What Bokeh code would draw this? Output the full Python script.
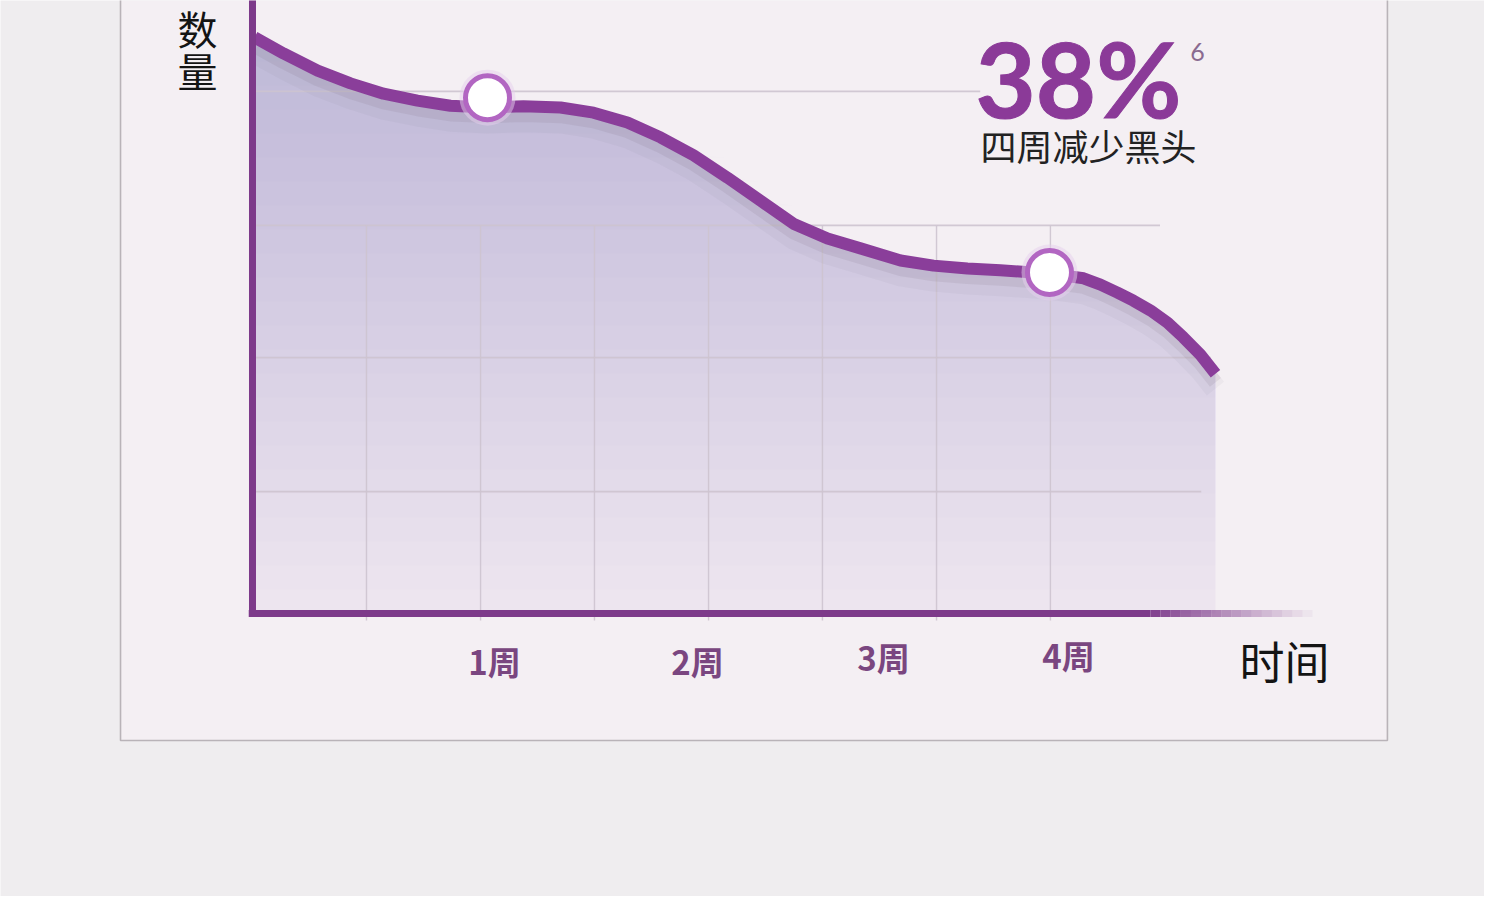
import numpy as np
from bokeh.plotting import figure
from bokeh.models import Range1d
from bokeh.core.properties import value
from bokeh.embed import file_html
from bokeh.resources import INLINE

# ---------------- data ----------------
weeks = [-0.244, -0.089, 0.093, 0.269, 0.445, 0.626, 0.802, 1.0, 1.192, 1.390,
         1.566, 1.747, 1.924, 2.100, 2.281, 2.457, 2.633, 2.815, 2.991, 3.205,
         3.381, 3.562, 3.738, 4.0, 4.182, 4.272, 4.363, 4.448, 4.539, 4.630,
         4.715, 4.806, 4.886]
counts = [100.2, 97.4, 94.4, 92.2, 90.4, 89.2, 88.3, 88.0, 88.2, 88.0,
          87.1, 85.4, 82.8, 79.7, 75.8, 71.8, 67.8, 65.2, 63.5, 61.4,
          60.5, 60.0, 59.7, 59.1, 58.3, 57.2, 55.8, 54.4, 52.7, 50.6,
          48.0, 45.0, 41.7]
marker_weeks = [1, 4]
marker_counts = [89.7, 59.3]
tick_labels = ["1周", "2周", "3周", "4周"]
grid_rows = [21.2, 44.5, 67.5, 90.8]
grid_row_ends = [4.81, 4.86, 4.59, 3.63]
grid_cols = [0.354, 0.963, 1.571, 2.180, 2.788, 3.397, 4.005]
headline = "38%"
footnote = "6"
subline = "四周减少黑头"
x_title = "时间"
y_title = ["数", "量"]

# ---------------- layout ----------------
W, H = 1484, 896
X0, X1 = -1.5997, 6.3222
Y0, Y1 = -49.22, 106.61
axis_x = -0.2545
axis_solid_end = 4.539
axis_fade_end = 5.404

BG = "#efedef"
BOX_BG = "#f4eff3"
BOX_LINE = "#b9b3b8"
CURVE = "#8a3e9a"
AXIS = "#7d3a8a"
GRID = "#cdc3cf"
HEAD = "#8b3a98"

p = figure(width=W, height=H, x_range=Range1d(X0, X1), y_range=Range1d(Y0, Y1),
           x_axis_type=None, y_axis_type=None, output_backend="svg",
           toolbar_location=None, min_border=0,
           background_fill_color=BG, border_fill_color=BG, outline_line_color=None)
p.grid.visible = False

# framed panel
p.quad(left=[-0.959], right=[5.804], bottom=[-22.09], top=[130],
       fill_color=BOX_BG, line_color=BOX_LINE, line_width=1.6)

wx = np.array(weeks)
cy = np.array(counts)

# area fill with vertical gradient
p.varea(x=wx, y1=np.zeros_like(cy), y2=cy, fill_color="#efe7f0")
for t in np.linspace(0, 96, 24):
    p.varea(x=wx, y1=np.full_like(cy, t), y2=np.maximum(cy, t),
            fill_color="#9f78a7", fill_alpha=0.015)

# grid
p.segment(x0=[axis_x] * len(grid_rows), y0=grid_rows, x1=grid_row_ends, y1=grid_rows,
          line_color=GRID, line_width=1.6, line_alpha=0.9)
p.segment(x0=grid_cols, y0=[-1.2] * len(grid_cols), x1=grid_cols,
          y1=[grid_rows[2]] * len(grid_cols),
          line_color=GRID, line_width=1.4, line_alpha=0.9)

# curve shadow + curve
p.line(wx, cy - 2.6, line_width=22, line_color="#6a5a70", line_alpha=0.05, line_join="round")
p.line(wx, cy - 1.5, line_width=14, line_color="#6a5a70", line_alpha=0.11, line_join="round")
p.line(wx, cy, line_width=12, line_color=CURVE, line_cap="butt", line_join="round")

# axes
p.segment(x0=[axis_x], y0=[-0.6], x1=[axis_x], y1=[Y1 + 5], line_color=AXIS, line_width=7)
p.segment(x0=[axis_x - 0.02], y0=[0], x1=[axis_solid_end], y1=[0], line_color=AXIS, line_width=7)
n_fade = 16
edges = np.linspace(axis_solid_end, axis_fade_end, n_fade + 1)
p.segment(x0=edges[:-1], y0=np.zeros(n_fade), x1=edges[1:], y1=np.zeros(n_fade),
          line_color=AXIS, line_width=7,
          line_alpha=list(np.linspace(0.95, 0.05, n_fade)))

# markers
p.scatter(marker_weeks, marker_counts, size=56, fill_color="#e6cfee", fill_alpha=0.5, line_color=None)
p.scatter(marker_weeks, marker_counts, size=44, fill_color="white",
          line_color="#b266c2", line_width=5)

# tick labels
p.text(x=[1.037, 2.121, 3.114, 4.101], y=[-8.2, -8.2, -7.5, -7.3], text=tick_labels,
       text_font=value("Noto Sans CJK SC"), text_font_size="33px", text_font_style="bold",
       text_color="#7a4680", text_align="center", text_baseline="middle")

# axis titles
p.text(x=[5.255], y=[-8.2], text=[x_title], text_font=value("Noto Sans CJK SC"),
       text_font_size="45px", text_color="#141414", text_align="center", text_baseline="middle")
p.text(x=[-0.548, -0.548], y=[101.9, 94.6], text=y_title, text_font=value("Noto Sans CJK SC"),
       text_font_size="40px", text_color="#141414", text_align="center", text_baseline="middle")

# headline block
p.text(x=[3.632], y=[81.4], text=[subline], text_font=value("Noto Sans CJK SC"),
       text_font_size="36px", text_color="#222222",
       text_align="left", text_baseline="middle")
p.text(x=[4.790], y=[97.6], text=[footnote], text_font=value("Lato"),
       text_font_size="25px", text_color="#8a6a90", text_align="center", text_baseline="middle")
p.text(x=[3.605], y=[93.2], text=[headline], text_font=value("Lato"),
       text_font_size="104px", text_font_style="bold", text_color=HEAD,
       text_outline_color=HEAD,
       text_align="left", text_baseline="middle")

open("out.html", "w").write(file_html(p, INLINE))
